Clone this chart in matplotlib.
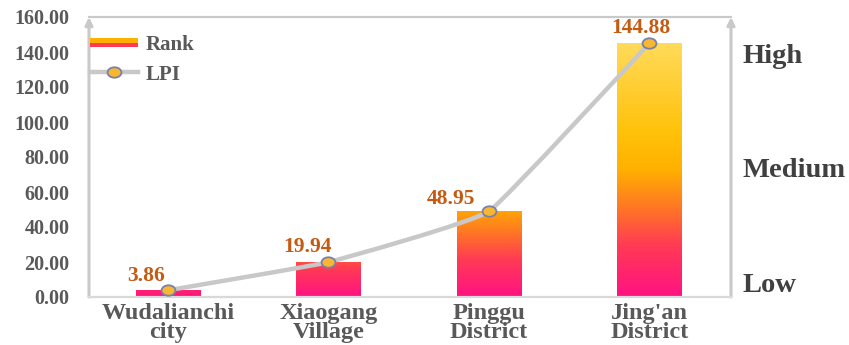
import numpy as np
import matplotlib
matplotlib.use("Agg")
import matplotlib.pyplot as plt
from matplotlib.colors import LinearSegmentedColormap
from matplotlib.path import Path
from matplotlib.patches import PathPatch, Rectangle
from matplotlib.transforms import Affine2D
from matplotlib.legend_handler import HandlerBase
from matplotlib.lines import Line2D

# ---- data ----
categories = ["Wudalianchi\ncity", "Xiaogang\nVillage", "Pinggu\nDistrict", "Jing'an\nDistrict"]
rank_values = [3.86, 19.94, 48.95, 144.88]
lpi_values = [3.86, 19.94, 48.95, 144.88]
y_ticks = [0, 20, 40, 60, 80, 100, 120, 140, 160]
level_labels = ["Low", "Medium", "High"]
level_positions = [8, 74, 139]

# ---- style ----
SERIF = ["Liberation Serif", "DejaVu Serif"]
TXT = "#595959"
LBL = "#C55A11"
FRAME = "#C9C9C9"
LINE = "#C8C8C8"
MK_FACE = "#F7B731"
MK_EDGE = "#7A80A8"

cmap = LinearSegmentedColormap.from_list(
    "rank_grad",
    [(0.00, "#FF1283"), (0.20, "#FF3A55"), (0.36, "#FF7A22"),
     (0.50, "#FFB000"), (0.65, "#FFC20A"), (1.00, "#FFDA5A")])

fig = plt.figure(figsize=(8.49, 3.45), dpi=100)
ax = fig.add_axes([89 / 849, 48 / 345, 642 / 849, 280 / 345])

x = np.arange(len(categories))
bar_w = 0.40
bars = ax.bar(x, rank_values, width=bar_w, color="none", edgecolor="none", zorder=2)

# vertical gradient fill inside each bar
top_val = max(rank_values)
for b, h in zip(bars, rank_values):
    tmax = (h / top_val) ** 0.7
    grad = np.linspace(0, tmax, 256).reshape(-1, 1)
    im = ax.imshow(grad, cmap=cmap, vmin=0, vmax=1, origin="lower", aspect="auto",
                   extent=[b.get_x(), b.get_x() + b.get_width(), 0, h],
                   interpolation="bicubic", zorder=2)
    im.set_clip_path(b)

# lightly smoothed line through the points (cubic Beziers, low tension)
pts = np.column_stack([x, lpi_values]).astype(float)
n = len(pts)
verts = [pts[0]]
codes = [Path.MOVETO]
k = 0.05
for i in range(n - 1):
    p0 = pts[i - 1] if i > 0 else pts[i]
    p1 = pts[i]
    p2 = pts[i + 1]
    p3 = pts[i + 2] if i + 2 < n else pts[i + 1]
    c1 = p1 + (p2 - p0) * k
    c2 = p2 - (p3 - p1) * k
    verts += [c1, c2, p2]
    codes += [Path.CURVE4] * 3
ax.add_patch(PathPatch(Path(verts, codes), facecolor="none", edgecolor=LINE,
                       lw=3.2, capstyle="round", joinstyle="round", zorder=3))

ellipse = Path.unit_circle().transformed(Affine2D().scale(1.0, 0.75))
ax.plot(x, lpi_values, linestyle="none", marker=ellipse, markersize=10,
        markerfacecolor=MK_FACE, markeredgecolor=MK_EDGE, markeredgewidth=1.3, zorder=4)

# value labels
label_offsets = [(-16, 10), (-15, 11), (-27, 9), (-6, 11)]
for xi, v, (dx, dy) in zip(x, rank_values, label_offsets):
    ax.annotate(f"{v:.2f}", (xi, v), xytext=(dx, dy), textcoords="offset points",
                ha="center", va="center", color=LBL, fontsize=15.5,
                fontweight="bold", family=SERIF, zorder=5)

# axes, frame, arrows
ax.set_xlim(-0.493, 3.51)
ax.set_ylim(0, 160)
ax.set_yticks(y_ticks)
ax.set_yticklabels([f"{t:.2f}" for t in y_ticks])
ax.set_xticks(x)
ax.set_xticklabels(categories, linespacing=0.88)
ax.tick_params(axis="y", length=0, pad=14, labelsize=14.5, labelcolor=TXT)
ax.tick_params(axis="x", length=0, pad=4, labelsize=17.5, labelcolor=TXT)
for lab in ax.get_yticklabels() + ax.get_xticklabels():
    lab.set_family(SERIF)
    lab.set_fontweight("bold")

for side in ("left", "right"):
    ax.spines[side].set_visible(False)
ax.spines["top"].set_color(FRAME)
ax.spines["top"].set_linewidth(1.6)
ax.spines["bottom"].set_color("#D9D9D9")
ax.spines["bottom"].set_linewidth(1.6)
for xf in (0.0, 1.0):
    ax.annotate("", xy=(xf, 1.0), xytext=(xf, 0.0), xycoords="axes fraction",
                arrowprops=dict(arrowstyle="-|>,head_length=0.45,head_width=0.22",
                                color=FRAME, lw=2.2, shrinkA=0, shrinkB=0),
                annotation_clip=False, zorder=1)

# qualitative level scale on the right
ax2 = ax.twinx()
ax2.set_ylim(0, 160)
ax2.set_yticks(level_positions)
ax2.set_yticklabels(level_labels)
ax2.tick_params(axis="y", length=0, pad=8, labelsize=20.5, labelcolor="#404040")
for lab in ax2.get_yticklabels():
    lab.set_family(SERIF)
    lab.set_fontweight("bold")
for s in ax2.spines.values():
    s.set_visible(False)


# legend with a two-tone stripe for the bar series
class StripeHandler(HandlerBase):
    def create_artists(self, legend, orig_handle, xdescent, ydescent,
                       width, height, fontsize, trans):
        hh = height * 0.6
        y0 = (height - hh) / 2 - ydescent
        top = Rectangle((-xdescent, y0 + hh / 2), width, hh / 2,
                        facecolor="#FFB000", edgecolor="none", transform=trans)
        bot = Rectangle((-xdescent, y0), width, hh / 2,
                        facecolor="#FF3A55", edgecolor="none", transform=trans)
        return [top, bot]


rank_handle = Rectangle((0, 0), 1, 1)
lpi_handle = Line2D([], [], color=LINE, lw=3.2, marker=ellipse, markersize=10,
                    markerfacecolor=MK_FACE, markeredgecolor=MK_EDGE, markeredgewidth=1.3)
leg = ax.legend([rank_handle, lpi_handle], ["Rank", "LPI"],
                handler_map={Rectangle: StripeHandler()},
                loc="upper left", bbox_to_anchor=(-0.012, 0.965), frameon=False,
                handlelength=2.3, handletextpad=0.4, labelspacing=0.45,
                borderaxespad=0, prop={"family": SERIF, "weight": "bold", "size": 15})
for t in leg.get_texts():
    t.set_color(TXT)

fig.savefig("out.png", dpi=100)
